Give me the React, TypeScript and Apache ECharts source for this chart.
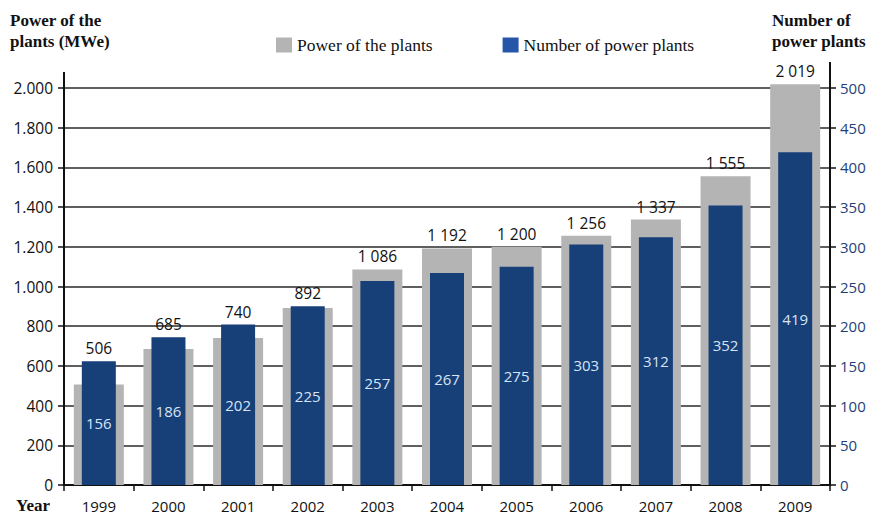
import React, { useEffect, useRef } from "react";
import * as echarts from "echarts";

const years = ["1999", "2000", "2001", "2002", "2003", "2004", "2005", "2006", "2007", "2008", "2009"];
const powerMWe = [506, 685, 740, 892, 1086, 1192, 1200, 1256, 1337, 1555, 2019];
const plantCount = [156, 186, 202, 225, 257, 267, 275, 303, 312, 352, 419];

const GREY = "#b4b4b4";
const BLUE = "#173f78";
const SERIF = "'Liberation Serif', 'Times New Roman', serif";
const SANS = "'Open Sans', 'DejaVu Sans', sans-serif";

// ratio between the two y scales (2000 MWe <-> 500 plants)
const SCALE_RATIO = 2000 / 500;

const spaceThousands = (v: number) => String(v).replace(/\B(?=(\d{3})+(?!\d))/g, " ");
const dotThousands = (v: number) => String(v).replace(/\B(?=(\d{3})+(?!\d))/g, ".");

export default function App() {
  const ref = useRef<HTMLDivElement>(null);
  useEffect(() => {
    if (!ref.current) return;
    const chart = echarts.init(ref.current, null, { renderer: "svg" });
    // the power label sits above whichever bar is taller
    const labelAnchor = powerMWe.map((v, i) => Math.max(v, plantCount[i] * SCALE_RATIO));
    chart.setOption({
      animation: false,
      backgroundColor: "#ffffff",
      grid: { left: 64, right: 39, top: 88, bottom: 33, containLabel: false },
      legend: {
        left: 271,
        top: 31,
        itemWidth: 16,
        itemHeight: 15,
        itemGap: 70,
        icon: "rect",
        textStyle: { fontFamily: SERIF, fontSize: 17.5, color: "#111" },
        data: [
          { name: "Power of the plants", itemStyle: { color: GREY } },
          { name: "Number of power plants", itemStyle: { color: "#2556a8" } },
        ],
      },
      graphic: [
        {
          type: "text",
          left: 10,
          top: 10,
          style: { text: "Power of the\nplants (MWe)", font: `bold 17px ${SERIF}`, fill: "#111", lineHeight: 21 },
        },
        {
          type: "text",
          left: 772,
          top: 10,
          style: { text: "Number of\npower plants", font: `bold 17px ${SERIF}`, fill: "#111", lineHeight: 21 },
        },
        {
          type: "text",
          left: 16,
          top: 497,
          style: { text: "Year", font: `bold 17px ${SERIF}`, fill: "#111" },
        },
        { type: "line", shape: { x1: 64, y1: 72, x2: 64, y2: 88 }, style: { stroke: "#111", lineWidth: 2 } },
        { type: "line", shape: { x1: 830, y1: 62, x2: 830, y2: 88 }, style: { stroke: "#111", lineWidth: 2 } },
      ],
      xAxis: [
        {
          type: "category",
          data: years,
          axisLine: { show: true, lineStyle: { color: "#111", width: 2 } },
          axisTick: { show: true, length: 6, alignWithLabel: false, lineStyle: { color: "#111", width: 1.5 } },
          axisLabel: { fontFamily: SANS, fontSize: 15, color: "#111", margin: 13 },
        },
        { type: "category", data: years, show: false, position: "bottom" },
        { type: "category", data: years, show: false, position: "bottom" },
      ],
      yAxis: [
        {
          type: "value",
          min: 0,
          max: 2000,
          interval: 200,
          axisLine: { show: true, lineStyle: { color: "#111", width: 2 } },
          axisTick: { show: true, length: 6, lineStyle: { color: "#111", width: 1.5 } },
          axisLabel: { fontFamily: SANS, fontSize: 15.5, color: "#111", margin: 11, formatter: (v: number) => dotThousands(v) },
          splitLine: { show: true, lineStyle: { color: "#2a2a2a", width: 1.5 } },
        },
        {
          type: "value",
          min: 0,
          max: 500,
          interval: 50,
          position: "right",
          axisLine: { show: true, lineStyle: { color: "#111", width: 2 } },
          axisTick: { show: true, length: 6, lineStyle: { color: "#111", width: 1.5 } },
          axisLabel: { fontFamily: SANS, fontSize: 15, color: "#1f3f7a", margin: 10 },
          splitLine: { show: false },
        },
      ],
      series: [
        {
          name: "Power of the plants",
          type: "bar",
          xAxisIndex: 0,
          yAxisIndex: 0,
          data: powerMWe,
          barWidth: 50,
          clip: false,
          itemStyle: { color: GREY },
          z: 2,
        },
        {
          name: "Number of power plants",
          type: "bar",
          xAxisIndex: 1,
          yAxisIndex: 1,
          data: plantCount,
          barWidth: 34,
          clip: false,
          itemStyle: { color: BLUE },
          label: {
            show: true,
            position: "inside",
            fontFamily: SANS,
            fontSize: 15,
            color: "#d6e4f7",
          },
          z: 3,
        },
        {
          name: "power-labels",
          type: "bar",
          xAxisIndex: 2,
          yAxisIndex: 0,
          data: labelAnchor,
          barWidth: 34,
          clip: false,
          silent: true,
          itemStyle: { color: "rgba(0,0,0,0)" },
          label: {
            show: true,
            position: "top",
            distance: 5,
            fontFamily: SANS,
            fontSize: 15.5,
            color: "#111",
            formatter: (p: any) => spaceThousands(powerMWe[p.dataIndex]),
          },
          z: 4,
        },
      ],
    });
    return () => chart.dispose();
  }, []);
  return <div ref={ref} style={{ width: 869, height: 518, position: "absolute", left: 0, top: 0 }} />;
}
